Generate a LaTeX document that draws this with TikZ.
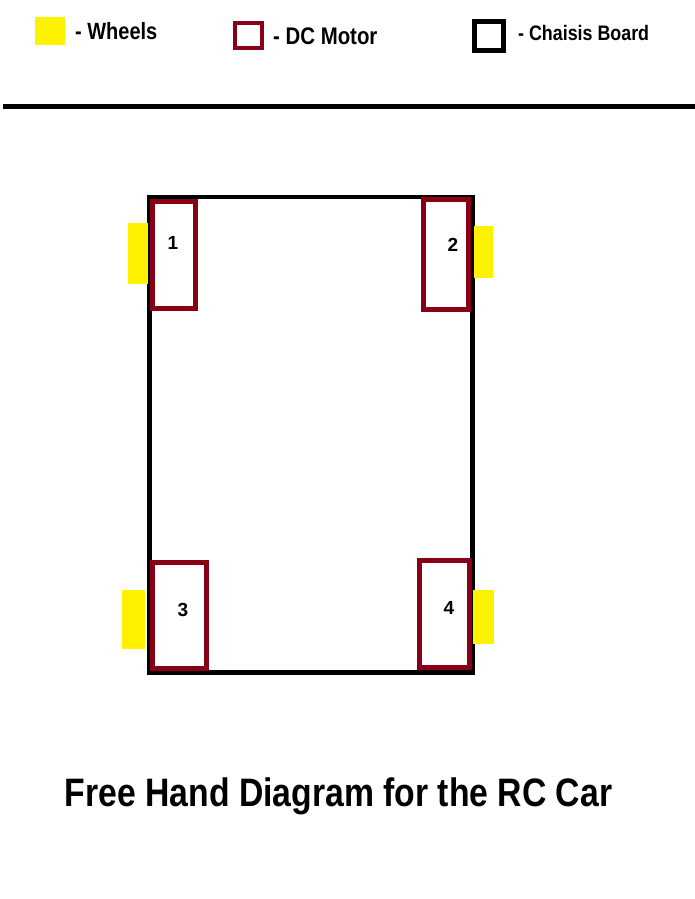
\documentclass[tikz,border=0pt]{standalone}
\usepackage{fontspec}
\setmainfont{Liberation Sans}
\newfontfamily\condfont[FakeStretch=0.85]{Liberation Sans}
\usepackage{tikz}
\usetikzlibrary{positioning}
\usepackage{xcolor}
\definecolor{wheel}{HTML}{FFF200}
\definecolor{motor}{HTML}{880015}
\definecolor{board}{HTML}{000000}

\begin{document}
\begin{tikzpicture}[x=1pt,y=-1pt,
  legendtext/.style={anchor=west,inner sep=0pt,font=\condfont\bfseries},
  motorbox/.style={draw=motor,line width=5pt},
  numlabel/.style={inner sep=0pt,font=\bfseries\fontsize{19}{19}\selectfont}]
  \useasboundingbox (0,0) rectangle (695,899);

  % Legend
  \fill[wheel] (35,17) rectangle (65,45);
  \node[legendtext,font=\condfont\bfseries\fontsize{23.5}{24}\selectfont] (lgwheel) at (75,31) {- Wheels};
  \draw[motor,line width=4pt] (235,23) rectangle (262,48);
  \node[legendtext,font=\condfont\bfseries\fontsize{24}{24}\selectfont] (lgmotor) at (273,36) {- DC Motor};
  \draw[board,line width=5pt] (474.5,21.5) rectangle (503.5,50.5);
  \node[legendtext,font=\condfont\bfseries\fontsize{21}{21}\selectfont] (lgboard) at (518,33) {- Chaisis Board};

  % Separator
  \draw[line width=5pt] (3,106) -- (695,106);

  % Chassis board
  \draw[board,line width=4.5pt] (149.5,197) rectangle (472.5,672.5);

  % Wheels
  \fill[wheel] (128,223) rectangle (148,284);
  \fill[wheel] (474,226) rectangle (493,278);
  \fill[wheel] (122,590) rectangle (145,649);
  \fill[wheel] (473,590) rectangle (494,644);

  % DC motors
  \draw[motorbox] (152.5,201.5) rectangle (195.5,308.5);
  \draw[motorbox] (423.5,199.5) rectangle (468.5,309.5);
  \draw[motorbox] (152.5,562.5) rectangle (206.5,668.5);
  \draw[motorbox] (419.5,560.5) rectangle (469.5,667.5);
  \node[numlabel] (m1) at (173,243) {1};
  \node[numlabel] (m2) at (453,245) {2};
  \node[numlabel] (m3) at (183,610) {3};
  \node[numlabel] (m4) at (449,608) {4};

  % Title
  \node[anchor=base,inner sep=0pt,font=\condfont\bfseries\fontsize{39.7}{40}\selectfont] (title) at (338.5,806) {Free Hand Diagram for the RC Car};
\end{tikzpicture}
\end{document}
